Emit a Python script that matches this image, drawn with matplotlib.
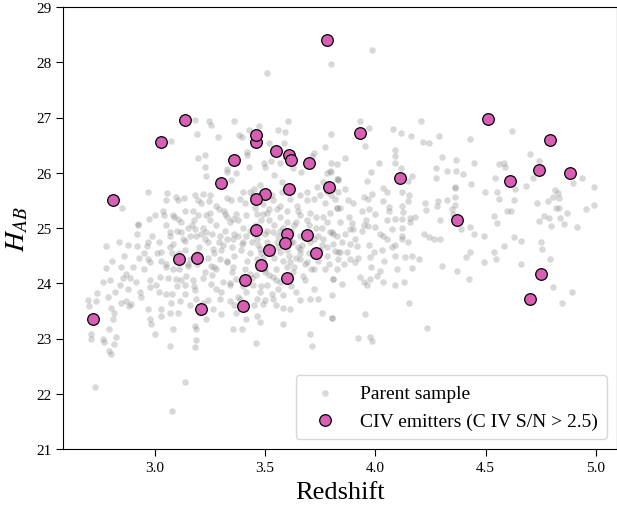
import numpy as np
import matplotlib
matplotlib.use("Agg")
import matplotlib.pyplot as plt

plt.rcParams['font.family'] = ['Liberation Serif', 'DejaVu Serif']
plt.rcParams['mathtext.fontset'] = 'stix'

# C IV emitters (S/N > 2.5): redshift and H-band AB magnitude
civ_z = [2.72, 2.81, 3.03, 3.14, 3.11, 3.19, 3.21, 3.30, 3.36, 3.46, 3.46, 3.55,
         3.61, 3.62, 3.70, 3.78, 3.61, 3.50, 3.46, 3.79, 3.46, 3.52, 3.48, 3.60,
         3.59, 3.69, 3.73, 3.60, 3.41, 3.40, 3.93, 4.11, 4.37, 4.51, 4.61, 4.79,
         4.74, 4.88, 4.75, 4.70]
civ_h = [23.35, 25.51, 26.56, 26.95, 24.44, 24.46, 23.53, 25.81, 26.23, 26.56, 26.68, 26.39,
         26.33, 26.23, 26.18, 28.40, 25.71, 25.62, 25.52, 25.74, 24.97, 24.60, 24.33, 24.89,
         24.72, 24.88, 24.55, 24.09, 24.06, 23.59, 26.72, 25.91, 25.14, 26.97, 25.85, 26.59,
         26.05, 26.00, 24.17, 23.71]

# parent sample, (redshift, H_AB) pairs
parent_upper = [
    (3.798, 27.97), (3.507, 27.80), (3.986, 28.22),
    (3.185, 26.95), (3.245, 26.93), (3.257, 26.87), (3.359, 26.94), (3.603, 26.94),
    (3.192, 26.71), (3.288, 26.65), (3.383, 26.69), (3.398, 26.64), (3.429, 26.77),
    (3.474, 26.84), (3.560, 26.78), (3.591, 26.73), (3.798, 26.70), (3.770, 26.47),
    (3.073, 26.57), (3.197, 26.27), (3.230, 26.32), (3.230, 26.11), (3.235, 25.94),
    (3.326, 26.06), (3.326, 26.01), (3.371, 26.00), (3.427, 26.10), (3.420, 26.38),
    (3.420, 26.33), (3.494, 26.17), (3.498, 26.10), (3.520, 26.53), (3.527, 26.21),
    (3.586, 26.54), (3.541, 25.96), (3.568, 26.17), (3.576, 25.84), (3.629, 26.08),
    (3.662, 26.01), (3.723, 26.35), (3.715, 26.31), (3.735, 25.74), (3.795, 26.04),
    (3.780, 26.00), (3.826, 26.16), (3.826, 25.89), (3.765, 25.83), (2.968, 25.65),
    (3.056, 25.63), (3.050, 25.50), (3.098, 25.56), (3.106, 25.50), (3.133, 25.54),
    (3.185, 25.60), (3.221, 25.61), (3.195, 25.51), (3.245, 25.49), (2.853, 25.36),
    (2.923, 25.07), (2.973, 25.17), (3.000, 25.24), (3.042, 25.24), (3.083, 25.23),
    (3.106, 25.16), (3.136, 25.31), (3.174, 25.31), (3.197, 25.23), (3.235, 25.23),
    (3.250, 25.28), (3.280, 25.40), (3.313, 25.31), (3.348, 25.50), (3.386, 25.53),
    (3.401, 25.65), (3.432, 25.66), (3.454, 25.37), (3.492, 25.43), (3.538, 25.50),
    (3.576, 25.65), (3.613, 25.53), (3.644, 25.40), (3.659, 25.59), (3.689, 25.65),
    (3.720, 25.53), (3.750, 25.59), (3.780, 25.65), (3.810, 25.71), (3.833, 25.86),
    (3.326, 25.20), (3.356, 25.16), (3.416, 25.23), (3.462, 25.26), (3.507, 25.28),
    (3.553, 25.35), (3.598, 25.31), (3.659, 25.23), (3.705, 25.28), (3.765, 25.20),
    (3.795, 25.28), (3.826, 25.37), (3.295, 25.77), (3.477, 25.77), (3.447, 25.59),
    (3.348, 25.86),
]

parent_right = [
    (3.931, 26.93), (3.971, 26.81), (3.954, 26.48), (4.080, 26.79), (4.115, 26.72),
    (4.160, 26.66), (4.207, 26.94), (4.215, 26.56), (4.242, 26.53), (4.287, 26.67),
    (4.430, 26.61), (4.620, 26.76), (4.700, 26.34), (4.743, 26.21), (4.715, 25.91),
    (4.681, 25.76), (3.863, 26.27), (3.800, 26.17), (3.800, 26.02), (3.830, 25.88),
    (4.015, 26.17), (3.980, 26.01), (3.962, 25.85), (4.090, 26.42), (4.090, 26.31),
    (4.087, 26.18), (4.116, 26.08), (4.165, 25.95), (4.147, 25.85), (4.304, 26.29),
    (4.277, 26.09), (4.327, 26.04), (4.365, 26.23), (4.365, 26.03), (4.398, 25.97),
    (4.445, 26.18), (4.433, 25.79), (4.274, 25.90), (4.363, 25.74), (4.495, 25.65),
    (4.540, 25.91), (4.560, 26.16), (4.583, 26.18), (4.589, 26.10), (4.634, 25.71),
    (4.550, 25.66), (4.562, 25.53), (4.627, 25.50), (4.734, 25.45), (4.781, 25.49),
    (4.804, 25.56), (4.813, 25.69), (4.828, 25.63), (4.834, 25.54), (4.819, 25.37),
    (4.833, 25.36), (4.787, 25.19), (4.837, 25.18), (4.762, 25.21), (4.869, 25.28),
    (4.937, 25.90), (4.992, 25.74), (4.954, 25.34), (4.992, 25.42), (4.895, 25.82),
    (4.916, 25.01), (3.833, 25.65), (3.863, 25.71), (3.878, 25.50), (3.951, 25.57),
    (3.966, 25.53), (3.972, 25.35), (3.984, 25.62), (4.037, 25.72), (4.053, 25.65),
    (4.033, 25.49), (4.063, 25.38), (4.121, 25.65), (4.153, 25.60), (4.148, 25.48),
    (4.119, 25.39), (4.124, 25.29), (4.156, 25.19), (4.224, 25.45), (4.230, 25.33),
    (4.284, 25.49), (4.280, 25.40), (4.325, 25.51), (4.359, 25.57), (4.363, 25.42),
    (4.363, 25.73), (4.348, 25.35), (4.353, 25.26), (4.295, 25.14), (4.431, 25.02),
    (4.537, 25.21), (4.553, 25.09), (4.598, 25.31), (4.613, 25.30), (4.742, 25.12),
    (4.795, 25.04), (4.856, 25.07), (4.053, 25.15), (4.090, 25.16), (4.121, 25.16),
    (4.159, 25.10), (3.893, 25.09), (3.947, 25.05), (3.969, 25.04), (4.000, 25.02),
    (3.825, 25.36), (3.840, 25.36), (3.818, 25.53), (3.800, 25.59),
    (3.803, 24.92), (3.810, 24.89), (3.863, 24.89), (3.886, 24.98), (3.900, 24.98),
    (3.939, 24.95), (4.022, 24.89), (4.037, 24.86), (4.075, 24.98), (4.121, 24.86),
    (4.121, 24.80), (4.219, 24.89), (4.242, 24.83), (4.265, 24.80), (4.295, 24.80),
    (4.386, 24.98), (4.447, 24.89), (4.492, 24.86), (4.628, 24.83), (4.659, 24.77),
    (4.583, 24.68), (4.537, 24.56), (4.545, 24.44), (4.492, 24.38), (4.431, 24.56),
    (4.409, 24.47), (4.371, 24.23), (4.424, 24.08), (4.303, 24.32), (4.197, 24.44),
    (4.166, 24.50), (4.136, 24.47), (4.090, 24.50), (4.022, 24.23), (4.007, 24.14),
    (4.037, 24.02), (3.977, 24.08), (3.947, 24.02), (3.962, 23.96), (3.931, 24.11),
    (3.909, 24.38), (3.886, 24.44), (3.833, 24.44), (3.825, 24.26), (3.810, 24.08),
    (3.848, 23.99), (3.871, 24.56), (3.840, 24.56), (3.803, 23.78), (3.803, 23.38),
    (3.954, 23.44), (4.151, 23.64), (4.090, 23.96), (4.128, 24.02), (4.166, 24.28),
    (4.234, 23.19), (3.921, 23.01), (3.974, 23.02), (3.984, 22.95), (4.659, 24.35),
    (4.750, 24.74), (4.753, 24.62), (4.792, 24.43), (4.803, 23.94), (4.889, 23.85),
    (4.845, 23.64), (3.810, 24.71), (3.818, 24.59), (3.886, 24.71), (3.916, 24.68),
    (3.977, 24.47), (3.992, 24.56), (4.053, 24.80), (4.075, 24.65),
]

parent_lower = [
    (2.924, 25.06), (3.068, 24.92), (3.083, 24.71), (3.121, 24.92), (3.136, 24.77),
    (3.182, 24.98), (3.189, 24.86), (3.235, 24.92), (3.242, 24.74), (3.265, 24.62),
    (3.295, 24.86), (3.326, 24.80), (3.356, 24.80), (3.394, 24.71), (3.416, 24.86),
    (3.462, 24.80), (3.477, 24.62), (3.507, 24.74), (3.538, 24.92), (3.553, 24.74),
    (3.568, 24.56), (3.629, 24.74), (3.659, 24.62), (3.704, 24.74), (3.765, 24.80),
    (3.795, 24.92), (3.826, 24.86), (3.833, 24.56), (3.810, 24.08), (3.773, 24.26),
    (3.720, 24.26), (3.689, 24.38), (3.674, 24.14), (3.629, 24.20), (3.568, 24.02),
    (3.538, 24.11), (3.507, 23.96), (3.477, 23.84), (3.462, 23.71), (3.447, 23.96),
    (3.416, 23.84), (3.386, 23.71), (3.371, 23.47), (3.356, 23.17), (3.398, 23.17),
    (3.416, 23.35), (3.462, 23.41), (3.477, 23.29), (3.459, 22.92), (3.492, 23.62),
    (3.538, 23.71), (3.583, 23.78), (3.613, 23.53), (3.583, 23.26), (3.704, 23.71),
    (3.742, 23.71), (3.757, 23.47), (3.803, 23.38), (3.704, 23.08), (3.712, 22.87),
    (2.780, 24.68), (2.807, 24.40), (2.780, 24.28), (2.765, 24.03), (2.738, 23.82),
    (2.697, 23.70), (2.704, 23.58), (2.735, 23.68), (2.712, 23.08), (2.712, 22.99),
    (2.765, 22.99), (2.773, 22.93), (2.803, 22.72), (2.795, 22.78), (2.795, 23.17),
    (2.810, 23.35), (2.826, 23.02), (2.818, 22.90), (2.788, 23.75), (2.803, 23.56),
    (2.818, 23.47), (2.848, 23.65), (2.871, 23.68), (2.886, 23.58), (2.894, 23.62),
    (2.856, 24.09), (2.871, 24.17), (2.841, 23.96), (2.879, 23.90), (2.932, 23.85),
    (2.920, 24.68), (2.965, 24.68), (2.970, 24.44), (2.977, 24.38), (2.977, 23.93),
    (2.970, 23.53), (2.977, 23.35), (2.985, 23.26), (3.000, 23.08), (3.030, 23.53),
    (3.030, 23.41), (3.053, 23.81), (3.076, 23.65), (3.068, 23.47), (3.083, 23.17),
    (3.068, 22.87), (3.106, 23.47), (3.113, 23.68), (3.136, 23.96), (3.144, 24.14),
    (3.151, 24.32), (3.159, 24.44), (3.174, 24.05), (3.182, 23.87), (3.189, 23.71),
    (3.204, 23.47), (3.182, 23.23), (3.189, 23.17), (3.189, 22.98), (3.183, 22.84),
    (3.220, 23.65), (3.235, 23.35), (3.257, 23.99), (3.280, 24.26), (3.295, 24.44),
    (3.310, 24.02), (3.326, 24.38), (3.341, 23.96), (3.341, 23.68), (3.371, 24.08),
    (3.136, 22.22), (3.079, 21.68), (2.732, 22.13), (3.030, 24.56), (3.053, 24.35),
    (3.083, 24.26), (3.098, 24.08), (3.023, 24.11), (3.007, 23.96), (2.916, 24.02),
    (2.954, 24.26), (3.257, 24.32), (3.356, 24.29), (3.432, 24.17), (3.462, 24.44),
    (3.500, 24.26), (3.613, 24.38), (3.659, 24.44), (3.780, 24.50), (3.295, 23.71),
    (3.265, 23.53), (3.303, 23.44),
]

parent_core = [
    (3.02, 24.75), (3.05, 25.05), (3.08, 24.55), (3.10, 24.95), (3.12, 25.10),
    (3.14, 24.60), (3.16, 24.85), (3.18, 25.15), (3.20, 24.65), (3.22, 25.00),
    (3.24, 24.45), (3.26, 24.90), (3.28, 25.05), (3.30, 24.60), (3.32, 24.95),
    (3.34, 25.10), (3.36, 24.50), (3.38, 24.85), (3.40, 25.00), (3.42, 24.40),
    (3.44, 24.75), (3.46, 25.05), (3.48, 24.55), (3.50, 24.90), (3.52, 25.15),
    (3.54, 24.45), (3.56, 24.85), (3.58, 25.00), (3.60, 24.60), (3.62, 24.95),
    (3.64, 25.10), (3.66, 24.55), (3.68, 24.90), (3.70, 25.05), (3.72, 24.50),
    (3.74, 24.85), (3.76, 25.00), (3.78, 24.65), (3.03, 24.40), (3.07, 24.85),
    (3.11, 24.25), (3.15, 25.00), (3.19, 24.35), (3.23, 24.80), (3.27, 24.30),
    (3.31, 24.70), (3.35, 24.20), (3.39, 24.60), (3.43, 24.95), (3.47, 24.30),
    (3.51, 24.65), (3.55, 24.25), (3.59, 24.80), (3.63, 24.30), (3.67, 24.70),
    (3.71, 24.25), (3.75, 24.60), (3.79, 24.35), (3.21, 25.45), (3.25, 25.60),
    (3.29, 25.35), (3.33, 25.55), (3.37, 25.25), (3.41, 25.45), (3.45, 25.70),
    (3.49, 25.25), (3.53, 25.60), (3.57, 25.40), (3.61, 25.75), (3.65, 25.30),
    (3.69, 25.50), (3.73, 25.20), (3.77, 25.45), (3.44, 24.10), (3.48, 23.95),
    (3.52, 24.15), (3.56, 23.90), (3.60, 24.30), (3.64, 23.85), (3.68, 24.05),
    (3.45, 23.60), (3.53, 23.80), (3.58, 23.55), (3.66, 23.70), (3.72, 23.90),
    (3.26, 24.15), (3.30, 23.85), (3.34, 24.00), (3.38, 23.75), (3.22, 24.10),
    (3.18, 23.95), (3.14, 23.80), (3.10, 23.95), (3.06, 24.10), (3.02, 23.85),
    (2.98, 24.05), (2.94, 23.75), (2.90, 24.30), (2.86, 24.50), (2.82, 23.85),
    (2.95, 24.55), (2.99, 24.85), (2.92, 24.90), (2.88, 24.70), (3.85, 24.75),
    (3.88, 25.20), (3.91, 24.80), (3.94, 25.30), (3.97, 24.70), (4.00, 25.25),
    (4.03, 24.60), (4.06, 25.30), (4.09, 24.70), (4.12, 25.00), (4.15, 24.75),
    (4.18, 25.20), (3.86, 24.35), (3.92, 24.45), (3.98, 24.30), (4.04, 24.40),
    (4.10, 24.25), (3.84, 25.10), (3.90, 25.45), (3.96, 25.15),
    # densest clump, where the grey dots pile up
    (3.47, 24.70), (3.49, 24.45), (3.50, 24.20), (3.51, 24.95), (3.53, 24.55),
    (3.55, 24.05), (3.56, 24.65), (3.57, 24.95), (3.58, 24.40), (3.59, 24.10),
    (3.61, 24.50), (3.62, 24.75), (3.63, 25.05), (3.64, 24.45), (3.46, 24.15),
    (3.48, 25.15), (3.52, 25.35), (3.54, 25.05), (3.57, 25.20), (3.60, 25.10),
    (3.45, 24.90), (3.43, 24.55), (3.41, 24.25), (3.40, 24.75), (3.38, 25.15),
    (3.36, 24.90), (3.35, 24.65), (3.33, 24.40), (3.32, 25.25), (3.29, 24.75),
    (3.27, 24.55), (3.25, 25.15), (3.23, 24.20), (3.21, 24.90), (3.19, 24.55),
    (3.17, 25.05), (3.15, 24.35), (3.13, 24.80), (3.11, 24.55), (3.09, 25.20),
    (3.07, 24.65), (3.05, 24.30), (3.04, 25.30), (3.01, 24.55), (2.97, 24.75),
    (2.93, 24.45), (2.89, 24.10), (2.85, 24.30), (2.84, 24.75), (2.80, 24.05),
    (3.66, 24.85), (3.68, 24.35), (3.70, 24.55), (3.72, 24.80), (3.74, 24.40),
    (3.76, 24.70), (3.78, 25.10), (3.73, 25.00), (3.69, 25.15), (3.65, 24.65),
    (3.50, 23.70), (3.55, 23.60), (3.62, 23.95), (3.40, 23.95), (3.36, 23.60),
    (3.28, 23.90), (3.24, 23.70), (3.16, 23.60), (3.12, 24.05), (3.08, 23.80),
]

parent = np.array(parent_upper + parent_right + parent_lower + parent_core)
parent_z, parent_h = parent[:, 0], parent[:, 1]

fig = plt.figure(figsize=(6.17, 5.06), dpi=100)
ax = fig.add_axes([63 / 617, 56 / 506, 554 / 617, 442 / 506])

ax.scatter(parent_z, parent_h, s=22, color='gray', alpha=0.3, linewidths=0,
           label='Parent sample', zorder=1)
ax.scatter(civ_z, civ_h, s=70, color='#d95fb5', edgecolors='black', linewidths=0.9,
           label='CIV emitters (C IV S/N > 2.5)', zorder=2)

ax.set_xlim(2.585, 5.095)
ax.set_ylim(21, 29)
ax.set_xticks([3.0, 3.5, 4.0, 4.5, 5.0])
ax.set_yticks(range(21, 30))
ax.tick_params(labelsize=11, length=5, width=0.8)

ax.set_xlabel('Redshift', fontsize=19, labelpad=5)
ax.set_ylabel('$H_{AB}$', fontsize=20, labelpad=4)

ax.legend(loc='lower right', fontsize=14, borderpad=0.5)

fig.savefig('out.png', dpi=100)
